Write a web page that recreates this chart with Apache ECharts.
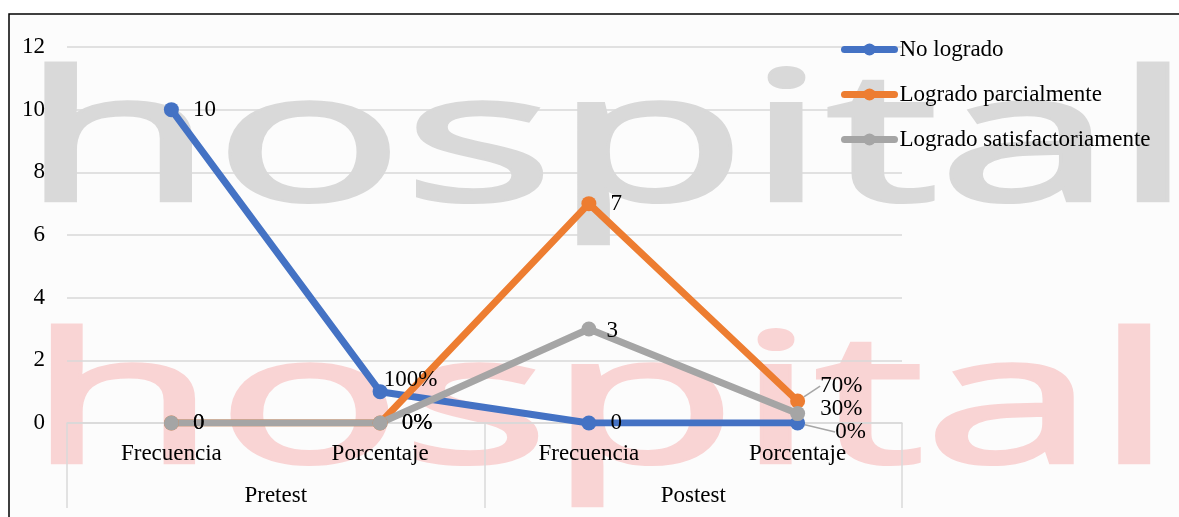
<!DOCTYPE html>
<html>
<head>
<meta charset="utf-8">
<script src="https://cdn.jsdelivr.net/npm/echarts@6/dist/echarts.min.js"></script>
<style>
  html, body { margin: 0; padding: 0; background: #fff; }
  #chart { width: 1179px; height: 517px; }
</style>
</head>
<body>
<div id="chart"></div>
<script>
// datos
var categorias = ['Frecuencia', 'Porcentaje', 'Frecuencia', 'Porcentaje'];
var grupos = ['Pretest', 'Postest'];
var noLogrado = [10, 1, 0, 0];
var logradoParcial = [0, 0, 7, 0.7];
var logradoSatisf = [0, 0, 3, 0.3];
var yMin = 0, yMax = 12, yPaso = 2;

var serif = '"Liberation Serif", "Times New Roman", serif';
var colores = ['#4472C4', '#ED7D31', '#A5A5A5'];

var myChart = echarts.init(document.getElementById('chart'));

// etiqueta: frecuencia entera, porcentaje en %
function textoEtiqueta(p) {
    if (p.dataIndex % 2 === 1) return Math.round(p.value * 100) + '%';
    return p.value;
}

// mueve etiquetas (dx, dy) por indice
function moverEtiqueta(movs) {
    return function (p) {
        var m = movs[p.dataIndex];
        if (!m) return {};
        return { dx: m[0], dy: m[1] };
    };
}

function serie(nombre, valores, idx, movs, guias) {
    var datos = valores.map(function (v, i) {
        var d = { value: v };
        if (guias.indexOf(i) >= 0) {
            d.labelLine = { show: true };
        }
        return d;
    });
    return {
        name: nombre,
        type: 'line',
        data: datos,
        symbol: 'circle',
        symbolSize: 15,
        color: colores[idx],
        lineStyle: { width: 7, color: colores[idx] },
        itemStyle: { color: colores[idx] },
        label: {
            show: true,
            position: 'right',
            distance: 14,
            formatter: textoEtiqueta,
            color: '#000',
            fontFamily: serif,
            fontSize: 23
        },
        labelLine: {
            show: false,
            smooth: false,
            lineStyle: { color: '#a6a6a6', width: 1.5 }
        },
        labelLayout: moverEtiqueta(movs),
        emphasis: { disabled: true }
    };
}

// marca de agua de fondo
function marca(x, y, escala, color) {
    return {
        type: 'text', z: -2, silent: true,
        x: x, y: y, scaleX: escala,
        style: {
            text: 'hospital',
            font: '180px "Open Sans", "Noto Sans", sans-serif',
            fill: color,
            stroke: color,
            lineWidth: 4,
            verticalAlign: 'middle'
        }
    };
}

var option = {
    animation: false,
    backgroundColor: '#fff',
    graphic: [
        {
            type: 'rect', z: -3, silent: true,
            shape: { x: 9, y: 14, width: 1200, height: 520 },
            style: { fill: '#fcfcfc' }
        },
        marca(21, 149, 1.75, '#d9d9d9'),
        marca(28, 411, 1.71, '#f9d4d4'),
        {
            type: 'polyline', z: 10, silent: true,
            shape: { points: [[9, 517], [9, 14], [1179, 14]] },
            style: { stroke: '#000', lineWidth: 1.5, fill: null }
        }
    ],
    grid: {
        left: 67,
        right: 277,
        top: 47,
        bottom: 94,
        containLabel: false
    },
    legend: {
        orient: 'vertical',
        left: 836,
        top: 33,
        itemWidth: 50,
        itemHeight: 15,
        itemGap: 22,
        lineStyle: { width: 7, cap: 'round' },
        textStyle: { color: '#000', fontFamily: serif, fontSize: 23 },
        data: ['No logrado', 'Logrado parcialmente', 'Logrado satisfactoriamente']
    },
    xAxis: [
        {
            type: 'category',
            data: categorias,
            boundaryGap: true,
            axisLine: { lineStyle: { color: '#d9d9d9', width: 1.5 } },
            axisTick: { show: false },
            axisLabel: { color: '#000', fontFamily: serif, fontSize: 23, margin: 19 }
        },
        {
            type: 'category',
            data: grupos,
            position: 'bottom',
            boundaryGap: true,
            axisLine: { show: false },
            axisTick: { show: true, length: 85, lineStyle: { color: '#d9d9d9', width: 1.5 } },
            axisLabel: { color: '#000', fontFamily: serif, fontSize: 23, margin: 61 }
        }
    ],
    yAxis: {
        type: 'value',
        min: yMin,
        max: yMax,
        interval: yPaso,
        axisLine: { show: false },
        axisTick: { show: false },
        axisLabel: { color: '#000', fontFamily: serif, fontSize: 23, margin: 22 },
        splitLine: { lineStyle: { color: '#d9d9d9', width: 1.5 } }
    },
    series: [
        serie('No logrado', noLogrado, 0, { 1: [-18, -12], 3: [16, 9] }, [3]),
        serie('Logrado parcialmente', logradoParcial, 1, { 3: [1, -15] }, [3]),
        serie('Logrado satisfactoriamente', logradoSatisf, 2, { 2: [-4, 2], 3: [1, -5] }, [])
    ]
};

myChart.setOption(option);
</script>
</body>
</html>
